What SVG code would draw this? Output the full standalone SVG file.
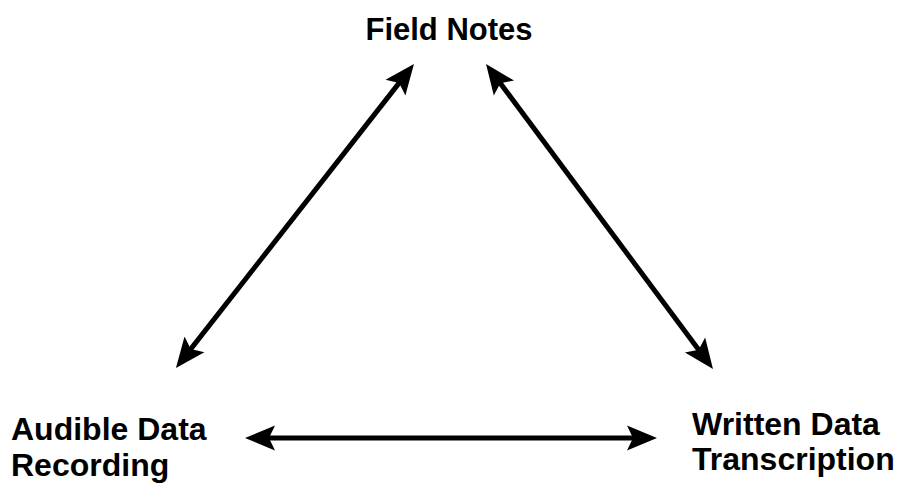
<svg xmlns="http://www.w3.org/2000/svg" width="899" height="485" viewBox="0 0 899 485">
<style>
.lbl{font-family:"Liberation Sans",Arial,sans-serif;font-weight:bold;font-size:31px;fill:#000}
.big{font-size:32px}
.con{stroke:#000;stroke-width:5;fill:none;marker-start:url(#ah);marker-end:url(#ah)}
</style>
<defs>
<marker id="ah" viewBox="0 0 10 10" refX="7" refY="5" markerWidth="6" markerHeight="6" markerUnits="strokeWidth" orient="auto-start-reverse">
<path d="M0,0.8 L10,5 L0,9.2 L2,5 Z" fill="#000"/>
</marker>
</defs>
<rect width="899" height="485" fill="#fff"/>
<g id="field-notes"><text class="lbl" x="449" y="40" text-anchor="middle">Field Notes</text></g>
<g id="audible"><text class="lbl big" x="11" y="440">Audible Data</text><text class="lbl big" x="11" y="476">Recording</text></g>
<g id="written"><text class="lbl big" x="692" y="435">Written Data</text><text class="lbl big" x="692" y="470">Transcription</text></g>
<g id="connectors">
<line class="con" x1="181.5" y1="360.9" x2="408.4" y2="71.1"/>
<line class="con" x1="491.4" y1="71.2" x2="707.6" y2="361.8"/>
<line class="con" x1="254" y1="438" x2="648" y2="438"/>
</g>
</svg>
